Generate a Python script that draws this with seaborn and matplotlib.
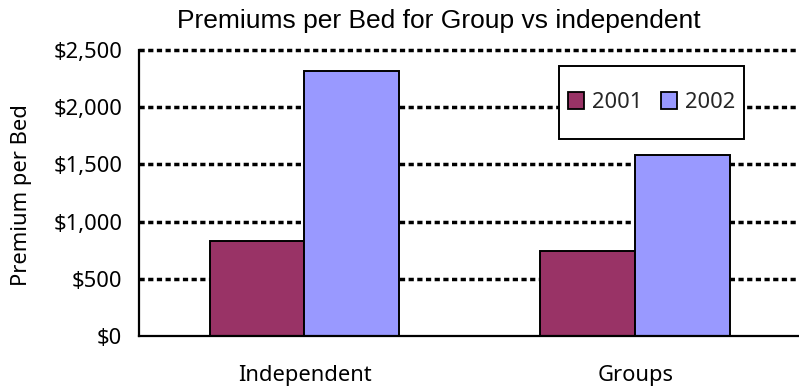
import matplotlib
matplotlib.use("Agg")
import matplotlib.pyplot as plt
from matplotlib.patches import Patch, Rectangle
from matplotlib.ticker import FuncFormatter, FixedLocator
import pandas as pd
import seaborn as sns

# Premium per bed by operator type and year
categories = ["Independent", "Groups"]
years = ["2001", "2002"]
premium_2001 = [830, 743]
premium_2002 = [2320, 1582]
y_ticks = [0, 500, 1000, 1500, 2000, 2500]
colors = ["#993366", "#9999FF"]

df = pd.DataFrame({
    "Type": categories * 2,
    "Year": [years[0]] * len(categories) + [years[1]] * len(categories),
    "Premium": premium_2001 + premium_2002,
})

sns.set_style("white")
plt.rcParams["font.family"] = ["Noto Sans", "DejaVu Sans"]

W, H = 799, 390
fig = plt.figure(figsize=(W / 100, H / 100), dpi=100)
# plot area in pixel terms: left 139, right 799, top 50, bottom 336
ax = fig.add_axes([139 / W, 1 - 336 / H, (799 - 139) / W, (336 - 50) / H])

sns.barplot(data=df, x="Type", y="Premium", hue="Year", order=categories,
            hue_order=years, palette=colors, width=0.574, gap=0,
            edgecolor="black", linewidth=1.4, saturation=1, legend=False,
            ax=ax, zorder=2)

ax.set_xlim(-0.5, 1.494)
ax.set_ylim(0, 2500)

# dotted horizontal gridlines
for v in y_ticks[1:]:
    ax.axhline(v, color="black", lw=2.5, linestyle=(0, (1.5, 1.0)),
               zorder=0.5, clip_on=False)

ax.yaxis.set_major_locator(FixedLocator(y_ticks))
ax.yaxis.set_major_formatter(FuncFormatter(lambda v, p: f"${v:,.0f}"))
ax.tick_params(axis="y", direction="inout", length=6, width=1.5,
               labelsize=15.8, pad=9, colors="black")

# category labels without ticks; tick marks on category boundaries
ax.tick_params(axis="x", which="major", length=0, labelsize=15.8, pad=21,
               colors="black")
ax.xaxis.set_minor_locator(FixedLocator([-0.5, 0.5, 1.5]))
ax.tick_params(axis="x", which="minor", direction="out", length=5.2,
               width=1.6, colors="black")

for side in ["top", "right"]:
    ax.spines[side].set_visible(False)
for side in ["left", "bottom"]:
    ax.spines[side].set_color("black")
    ax.spines[side].set_linewidth(1.6)
    ax.spines[side].set_zorder(3)

ax.set_xlabel("")
ax.set_ylabel("Premium per Bed", fontsize=15.8, color="black")
ax.yaxis.label.set_va("center")
ax.yaxis.set_label_coords((22 - 139) / 660, (336 - 195) / 286)

# legend box
lx0, ly0 = (559 - 139) / 660, (336 - 139) / 286
lw_, lh_ = 185 / 660, 73 / 286
ax.add_patch(Rectangle((lx0, ly0), lw_, lh_, transform=ax.transAxes,
                       facecolor="white", edgecolor="black", lw=1.4,
                       zorder=4, clip_on=False))
handles = [Patch(facecolor=c, edgecolor="black", linewidth=1.3) for c in colors]
leg = ax.legend(handles, years, loc="center",
                bbox_to_anchor=(lx0 + lw_ / 2, ly0 + lh_ / 2), ncol=2,
                frameon=False, fontsize=15.8, handlelength=0.73,
                handleheight=0.77, handletextpad=0.36, columnspacing=0.86,
                borderpad=0)
leg.set_zorder(5)

fig.text(439 / W, 1 - 28 / H, "Premiums per Bed for Group vs independent",
         ha="center", va="baseline", fontsize=19, family="Liberation Sans",
         color="black")

fig.savefig("out.png", dpi=100, facecolor="white")
